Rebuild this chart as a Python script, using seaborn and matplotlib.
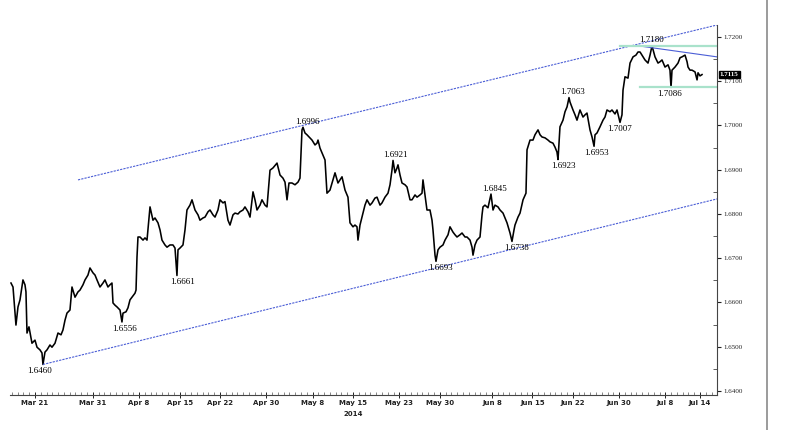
import numpy as np
import pandas as pd
import matplotlib
matplotlib.use("Agg")
import matplotlib.pyplot as plt
import matplotlib.dates as mdates
import matplotlib.transforms as mtransforms
from matplotlib.lines import Line2D
from matplotlib.ticker import MultipleLocator, FormatStrFormatter
import seaborn as sns

# ---------------- data ----------------
base_date = "2014-03-21"
day_offset = [
    -4.15, -3.80, -3.29, -2.94, -2.59, -2.08, -1.73, -1.56, -1.38, -1.04, -0.52, 0.00, 0.35, 0.86, 1.21, 1.38,
    1.73, 2.08, 2.59, 2.94, 3.46, 3.98, 4.50, 4.84, 5.19, 5.53, 6.05, 6.40, 6.92, 7.44, 7.78, 8.30, 8.65,
    9.16, 9.51, 10.03, 10.38, 10.72, 11.24, 11.76, 12.10, 12.62, 12.97, 13.31, 13.49, 13.83, 14.18, 14.70,
    15.04, 15.22, 15.74, 16.08, 16.43, 16.77, 17.29, 17.47, 17.64, 17.81, 18.16, 18.68, 19.02, 19.37, 19.89,
    20.40, 20.75, 21.27, 21.62, 21.96, 22.48, 22.83, 23.34, 23.86, 24.21, 24.55, 24.73, 25.07, 25.59, 25.94,
    26.28, 26.80, 27.15, 27.67, 28.19, 28.53, 29.05, 29.40, 29.92, 30.26, 30.78, 31.13, 31.64, 31.99, 32.51,
    32.85, 33.37, 33.72, 34.24, 34.58, 35.10, 35.45, 35.97, 36.31, 36.83, 37.18, 37.70, 38.04, 38.39, 38.91,
    39.25, 39.77, 40.12, 40.64, 41.15, 41.85, 42.37, 42.88, 43.23, 43.58, 43.92, 44.44, 44.96, 45.48, 45.82,
    46.17, 46.34, 46.69, 47.03, 47.55, 47.90, 48.42, 48.76, 48.94, 49.28, 49.63, 50.15, 50.49, 51.01, 51.53,
    51.88, 52.39, 52.74, 53.09, 53.61, 54.12, 54.47, 54.99, 55.33, 55.68, 55.85, 56.20, 56.55, 57.06, 57.41,
    57.93, 58.28, 58.79, 59.14, 59.66, 60.00, 60.52, 61.04, 61.39, 61.73, 61.91, 62.25, 62.60, 62.77, 63.12,
    63.46, 63.98, 64.33, 64.85, 65.19, 65.71, 66.06, 66.57, 66.92, 67.09, 67.44, 67.78, 68.30, 68.65, 68.82,
    69.17, 69.34, 69.69, 70.03, 70.55, 70.90, 71.42, 71.76, 72.28, 72.63, 72.97, 73.49, 73.84, 74.36, 74.70,
    75.22, 75.57, 75.74, 76.08, 76.43, 76.95, 77.30, 77.47, 77.81, 78.33, 78.85, 79.20, 79.54, 80.06, 80.41,
    80.93, 81.27, 81.62, 82.14, 82.48, 82.83, 83.00, 83.52, 83.87, 84.39, 84.90, 85.08, 85.60, 86.11, 86.46,
    86.98, 87.33, 87.67, 88.19, 88.71, 89.05, 89.57, 89.92, 90.26, 90.44, 90.78, 91.30, 91.65, 92.00, 92.34,
    92.51, 93.03, 93.38, 93.72, 94.24, 94.76, 95.11, 95.45, 95.97, 96.32, 96.67, 96.84, 97.18, 97.70, 98.22,
    98.56, 98.91, 99.43, 99.77, 100.29, 100.64, 100.98, 101.16, 101.50, 101.68, 102.02, 102.54, 102.89,
    103.41, 103.92, 104.27, 104.62, 104.96, 105.48, 106.00, 106.35, 106.69, 107.21, 107.73, 108.08, 108.42,
    108.94, 109.46, 109.80, 109.98, 110.15, 110.67, 111.19, 111.54, 111.88, 112.40, 112.75, 112.92, 113.26,
    113.61, 114.13, 114.48, 114.65, 114.99, 115.34,
]
price = [
    1.6644, 1.6635, 1.6549, 1.6590, 1.6606, 1.6651, 1.6640, 1.6624, 1.6531, 1.6545, 1.6508, 1.6515, 1.6499, 1.6493, 1.6486, 1.6460,
    1.6488, 1.6493, 1.6504, 1.6499, 1.6508, 1.6531, 1.6527, 1.6538, 1.6560, 1.6576, 1.6583, 1.6635, 1.6612, 1.6624, 1.6628, 1.6640, 1.6651,
    1.6662, 1.6678, 1.6667, 1.6662, 1.6651, 1.6635, 1.6644, 1.6651, 1.6635, 1.6640, 1.6644, 1.6599, 1.6594, 1.6590, 1.6583,
    1.6556, 1.6576, 1.6579, 1.6588, 1.6606, 1.6612, 1.6621, 1.6628, 1.6703, 1.6748, 1.6748, 1.6741, 1.6746, 1.6741, 1.6816,
    1.6786, 1.6791, 1.6780, 1.6764, 1.6741, 1.6730, 1.6725, 1.6730, 1.6730, 1.6723, 1.6661, 1.6719, 1.6723, 1.6730, 1.6764,
    1.6809, 1.6820, 1.6832, 1.6809, 1.6798, 1.6786, 1.6791, 1.6793, 1.6805, 1.6809, 1.6798, 1.6793, 1.6809, 1.6832, 1.6825,
    1.6828, 1.6786, 1.6775, 1.6798, 1.6802, 1.6800, 1.6805, 1.6809, 1.6816, 1.6805, 1.6793, 1.6850, 1.6832, 1.6809, 1.6820,
    1.6832, 1.6820, 1.6816, 1.6899, 1.6904, 1.6915, 1.6888, 1.6881, 1.6872, 1.6832, 1.6870, 1.6870, 1.6866, 1.6872, 1.6881,
    1.6990, 1.6996, 1.6983, 1.6979, 1.6972, 1.6967, 1.6956, 1.6960, 1.6967, 1.6949, 1.6938, 1.6922, 1.6847, 1.6854, 1.6877,
    1.6893, 1.6870, 1.6877, 1.6884, 1.6854, 1.6838, 1.6780, 1.6771, 1.6775, 1.6771, 1.6741, 1.6775, 1.6793, 1.6820, 1.6832,
    1.6820, 1.6825, 1.6836, 1.6838, 1.6820, 1.6825, 1.6838, 1.6847, 1.6866, 1.6899, 1.6921, 1.6893, 1.6904, 1.6911, 1.6888,
    1.6870, 1.6866, 1.6861, 1.6832, 1.6832, 1.6843, 1.6838, 1.6843, 1.6847, 1.6877, 1.6843, 1.6809, 1.6809, 1.6786, 1.6764,
    1.6707, 1.6693, 1.6719, 1.6725, 1.6730, 1.6741, 1.6753, 1.6771, 1.6759, 1.6753, 1.6748, 1.6753, 1.6757, 1.6748, 1.6748,
    1.6741, 1.6725, 1.6707, 1.6730, 1.6741, 1.6748, 1.6798, 1.6816, 1.6820, 1.6814, 1.6845, 1.6809, 1.6820, 1.6816, 1.6809,
    1.6802, 1.6791, 1.6780, 1.6757, 1.6738, 1.6764, 1.6775, 1.6793, 1.6802, 1.6832, 1.6847, 1.6945, 1.6967, 1.6967, 1.6979,
    1.6990, 1.6979, 1.6974, 1.6972, 1.6967, 1.6963, 1.6960, 1.6951, 1.6940, 1.6923, 1.6997, 1.7012, 1.7031, 1.7042, 1.7063,
    1.7053, 1.7035, 1.7024, 1.7012, 1.7035, 1.7019, 1.7024, 1.7028, 1.6990, 1.6974, 1.6953, 1.6979, 1.6983, 1.6997, 1.7012,
    1.7019, 1.7035, 1.7031, 1.7035, 1.7026, 1.7035, 1.7017, 1.7007, 1.7024, 1.7080, 1.7110, 1.7107, 1.7141,
    1.7155, 1.7159, 1.7166, 1.7166, 1.7159, 1.7148, 1.7141, 1.7159, 1.7180, 1.7155, 1.7141, 1.7144, 1.7148,
    1.7132, 1.7137, 1.7125, 1.7086, 1.7125, 1.7132, 1.7141, 1.7153, 1.7155, 1.7159, 1.7144, 1.7132, 1.7125,
    1.7125, 1.7121, 1.7103, 1.7119, 1.7112, 1.7115,
]

label_text = ["1.6460", "1.6556", "1.6661", "1.6996", "1.6921", "1.6693", "1.6845",
              "1.6738", "1.7063", "1.6923", "1.6953", "1.7007", "1.7180", "1.7086"]
label_day = [0.86, 15.56, 25.6, 47.03, 62.25, 70.2, 79.54,
             83.3, 93.03, 91.3, 97.18, 101.16, 106.69, 109.8]
label_price = [1.6460, 1.6556, 1.6661, 1.6996, 1.6921, 1.6693, 1.6845,
               1.6738, 1.7063, 1.6923, 1.6953, 1.7007, 1.7180, 1.7086]
label_kind = ["low", "low", "low", "high", "high", "low", "high",
              "low", "high", "low", "low", "low", "high", "low"]

upper_channel_day = [7.44, 117.93]
upper_channel_price = [1.6877, 1.7227]
lower_channel_day = [1.38, 117.93]
lower_channel_price = [1.6460, 1.6834]
resistance_day = [104.3, 117.93]
resistance_price = [1.7180, 1.7155]
top_range_day = [101.16, 117.93]
top_range_price = 1.7180
bottom_range_day = [104.62, 117.93]
bottom_range_price = 1.7086
last_price = 1.7115

tick_dates = ["2014-03-21", "2014-03-31", "2014-04-08", "2014-04-15", "2014-04-22", "2014-04-30",
              "2014-05-08", "2014-05-15", "2014-05-23", "2014-05-30", "2014-06-08", "2014-06-15",
              "2014-06-22", "2014-06-30", "2014-07-08", "2014-07-14"]
tick_labels = ["Mar 21", "Mar 31", "Apr 8", "Apr 15", "Apr 22", "Apr 30", "May 8", "May 15",
               "May 23", "May 30", "Jun 8", "Jun 15", "Jun 22", "Jun 30", "Jul 8", "Jul 14"]
year_label = "2014"
year_label_date = "2014-05-15"

x_range_days = [-4.32, 117.93]
y_range = [1.6391, 1.7227]

# ---------------- figure ----------------
base = pd.Timestamp(base_date)
def to_dates(days):
    return base + pd.to_timedelta(np.asarray(days, dtype=float), unit="D")

df = pd.DataFrame({"date": to_dates(day_offset), "price": price})

fig = plt.figure(figsize=(7.87, 4.30), dpi=100)
fig.patch.set_facecolor("white")
ax = fig.add_axes([10 / 787, 1 - 395 / 430, 707 / 787, 370 / 430])

sns.lineplot(data=df, x="date", y="price", ax=ax, color="black", lw=1.15, sort=False)

blue = "#4b5ed6"
ax.plot(to_dates(upper_channel_day), upper_channel_price, color=blue, lw=0.8, ls=(0, (2, 1)))
ax.plot(to_dates(lower_channel_day), lower_channel_price, color=blue, lw=0.8, ls=(0, (2, 1)))
ax.plot(to_dates(resistance_day), resistance_price, color=blue, lw=0.8)
green = "#a9e2cb"
ax.plot(to_dates(top_range_day), [top_range_price] * 2, color=green, lw=1.6)
ax.plot(to_dates(bottom_range_day), [bottom_range_price] * 2, color=green, lw=1.6)

for t, d, p, k in zip(label_text, label_day, label_price, label_kind):
    if k == "low":
        ax.annotate(t, (to_dates([d])[0], p), xytext=(0, -2), textcoords="offset points",
                    ha="center", va="top", fontsize=6.5, family="Liberation Serif", color="black")
    else:
        ax.annotate(t, (to_dates([d])[0], p), xytext=(0, 1), textcoords="offset points",
                    ha="center", va="bottom", fontsize=6.5, family="Liberation Serif", color="black")

ax.set_xlim(to_dates([x_range_days[0]])[0], to_dates([x_range_days[1]])[0])
ax.set_ylim(*y_range)

# axes styling
for s in ["left", "top"]:
    ax.spines[s].set_visible(False)
ax.spines["right"].set_color("#444444")
ax.spines["bottom"].set_color("#444444")
ax.spines["right"].set_linewidth(0.8)
ax.spines["bottom"].set_linewidth(0.8)
ax.set_xlabel("")
ax.set_ylabel("")

ax.yaxis.tick_right()
ax.yaxis.set_major_locator(MultipleLocator(0.01))
ax.yaxis.set_minor_locator(MultipleLocator(0.005))
ax.yaxis.set_major_formatter(FormatStrFormatter("%.4f"))
ax.tick_params(axis="y", which="major", direction="out", length=3, width=0.8, labelsize=5,
               pad=1.5, colors="#222222")
ax.tick_params(axis="y", which="minor", direction="in", length=3, width=0.6, colors="#444444")
for lab in ax.get_yticklabels():
    lab.set_family("Liberation Serif")

ax.set_xticks(pd.to_datetime(tick_dates))
ax.set_xticklabels(tick_labels)
ax.xaxis.set_minor_locator(mdates.DayLocator())
ax.tick_params(axis="x", which="major", direction="inout", length=4, width=0.7, labelsize=5,
               pad=1.5, colors="#222222")
ax.tick_params(axis="x", which="minor", direction="in", length=2, width=0.5, colors="#555555")
for lab in ax.get_xticklabels():
    lab.set_fontweight("bold")

trans = mtransforms.blended_transform_factory(ax.transData, ax.transAxes)
ax.text(pd.Timestamp(year_label_date), -0.042, year_label, transform=trans, ha="center", va="top",
        fontsize=5, fontweight="bold", color="#222222")

# last-price tag
trans_y = mtransforms.blended_transform_factory(ax.transAxes, ax.transData)
ax.text(1.004, last_price, f"{last_price:.4f}", transform=trans_y, ha="left", va="center",
        fontsize=5, fontweight="bold", color="white", family="Liberation Serif",
        bbox=dict(boxstyle="square,pad=0.15", fc="black", ec="black"))

# vertical border line at the right
fig.add_artist(Line2D([767 / 787, 767 / 787], [0, 1], color="#8a8a8a", lw=1.2))

fig.savefig("out.png", dpi=100, facecolor="white")
